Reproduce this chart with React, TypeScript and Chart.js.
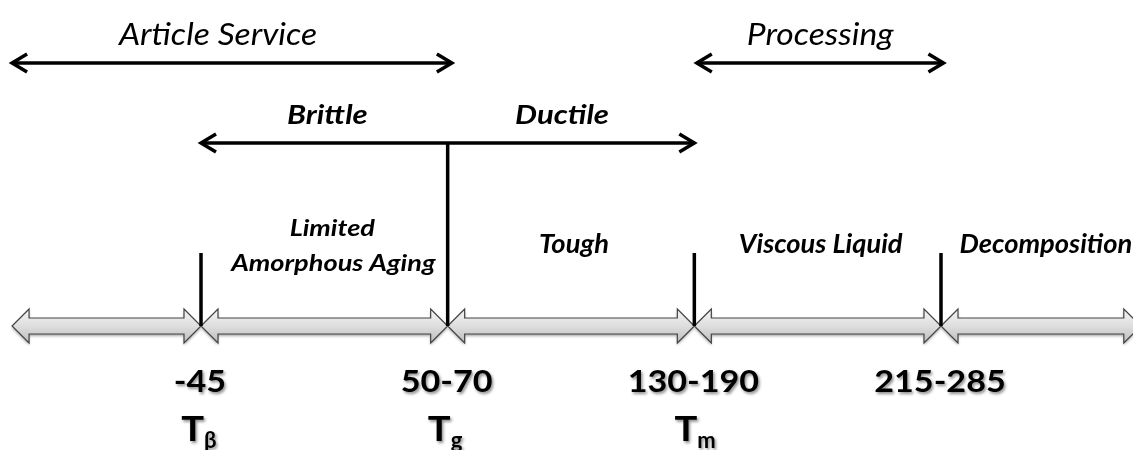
import React, { useEffect, useRef } from "react";
import { Chart, registerables } from "chart.js";

Chart.register(...registerables);

// ---------- data ----------
// transitions sit at ordinal positions 1..4 along the temperature axis
const transitionPos = [1, 2, 3, 4];
const transitionTemps = ["-45", "50-70", "130-190", "215-285"];
const transitionSymbols = ["β", "g", "m", ""];

// axis segments (double block arrows) between transitions
const segmentStart = [0.234, 1, 2, 3, 4];
const segmentEnd = [1, 2, 3, 4, 4.81];
const regionLabels = [[""], ["Limited", "Amorphous Aging"], ["Tough"], ["Viscous Liquid"], ["Decomposition"]];

// top usage ranges
const usageLabels = ["Article Service", "Processing"];
const usageStart = [0.234, 3.01];
const usageEnd = [2.017, 4.01];

// mechanical behaviour ranges
const behaviourLabels = ["Brittle", "Ductile"];
const behaviourStart = [1, 2];
const behaviourEnd = [2, 3];

// ---------- layout (y in canvas-pixel units on a reversed axis) ----------
const W = 1133;
const H = 450;
const X_MIN = 0.1851;
const X_MAX = 4.7784;
const Y = {
  usageBase: 45,
  usageLine: 63,
  behaviourBase: 124,
  behaviourLine: 143,
  regionBase: 253,
  regionLine1: 236,
  regionLine2: 271,
  tickTop: 253,
  axis: 326,
  tempBase: 392,
  symbolBase: 441,
  subBase: 448,
};
const FONT = "Lato, 'Open Sans', sans-serif";

function stretchedText(
  ctx: CanvasRenderingContext2D,
  text: string,
  x: number,
  y: number,
  font: string,
  sx: number,
  shadow = false
) {
  ctx.save();
  ctx.font = font;
  ctx.fillStyle = "#000";
  ctx.textAlign = "center";
  ctx.textBaseline = "alphabetic";
  if (shadow) {
    ctx.shadowColor = "rgba(0,0,0,0.45)";
    ctx.shadowBlur = 3;
    ctx.shadowOffsetX = 1.5;
    ctx.shadowOffsetY = 1.5;
  }
  ctx.translate(x, y);
  ctx.scale(sx, 1);
  ctx.fillText(text, 0, 0);
  ctx.restore();
}

function textWidth(ctx: CanvasRenderingContext2D, text: string, font: string, sx: number) {
  ctx.save();
  ctx.font = font;
  const w = ctx.measureText(text).width * sx;
  ctx.restore();
  return w;
}

function blockArrow(ctx: CanvasRenderingContext2D, x1: number, x2: number, yc: number) {
  const sh = 8, hh = 17, hl = 17;
  ctx.save();
  ctx.beginPath();
  ctx.moveTo(x1, yc);
  ctx.lineTo(x1 + hl, yc - hh);
  ctx.lineTo(x1 + hl, yc - sh);
  ctx.lineTo(x2 - hl, yc - sh);
  ctx.lineTo(x2 - hl, yc - hh);
  ctx.lineTo(x2, yc);
  ctx.lineTo(x2 - hl, yc + hh);
  ctx.lineTo(x2 - hl, yc + sh);
  ctx.lineTo(x1 + hl, yc + sh);
  ctx.lineTo(x1 + hl, yc + hh);
  ctx.closePath();
  const g = ctx.createLinearGradient(0, yc - hh, 0, yc + hh);
  g.addColorStop(0, "#f4f4f4");
  g.addColorStop(0.5, "#dedede");
  g.addColorStop(1, "#bdbdbd");
  ctx.fillStyle = g;
  ctx.shadowColor = "rgba(0,0,0,0.35)";
  ctx.shadowBlur = 3;
  ctx.shadowOffsetY = 2;
  ctx.fill();
  ctx.shadowColor = "transparent";
  ctx.strokeStyle = "#444";
  ctx.lineWidth = 1.2;
  ctx.lineJoin = "miter";
  ctx.stroke();
  ctx.restore();
}

function chevron(ctx: CanvasRenderingContext2D, x: number, y: number, dir: number) {
  const L = 15, HH = 9;
  ctx.save();
  ctx.strokeStyle = "#000";
  ctx.lineWidth = 3.5;
  ctx.lineJoin = "miter";
  ctx.lineCap = "butt";
  ctx.beginPath();
  ctx.moveTo(x - dir * L, y - HH);
  ctx.lineTo(x, y);
  ctx.lineTo(x - dir * L, y + HH);
  ctx.stroke();
  ctx.restore();
}

const diagramPlugin = {
  id: "diagram",
  beforeDatasetsDraw(chart: any) {
    const ctx = chart.ctx as CanvasRenderingContext2D;
    const xs = chart.scales.x, ys = chart.scales.y;
    const yA = ys.getPixelForValue(Y.axis);
    segmentStart.forEach((s, i) => {
      blockArrow(ctx, xs.getPixelForValue(s), xs.getPixelForValue(segmentEnd[i]), yA);
    });
  },
  afterDatasetsDraw(chart: any) {
    const ctx = chart.ctx as CanvasRenderingContext2D;
    const xs = chart.scales.x, ys = chart.scales.y;
    const px = (v: number) => xs.getPixelForValue(v);
    const py = (v: number) => ys.getPixelForValue(v);

    // arrowheads
    usageStart.forEach((s, i) => {
      chevron(ctx, px(s), py(Y.usageLine), -1);
      chevron(ctx, px(usageEnd[i]), py(Y.usageLine), 1);
    });
    chevron(ctx, px(behaviourStart[0]), py(Y.behaviourLine), -1);
    chevron(ctx, px(behaviourEnd[behaviourEnd.length - 1]), py(Y.behaviourLine), 1);

    // usage labels
    usageLabels.forEach((t, i) => {
      const cx = (px(usageStart[i]) + px(usageEnd[i])) / 2 + (i === 0 ? -14 : 0);
      stretchedText(ctx, t, cx, py(Y.usageBase), `italic 400 30px ${FONT}`, 1.12);
    });
    // behaviour labels
    behaviourLabels.forEach((t, i) => {
      const cx = (px(behaviourStart[i]) + px(behaviourEnd[i])) / 2 + (i === 1 ? -9 : 3);
      stretchedText(ctx, t, cx, py(Y.behaviourBase), `italic 700 27px ${FONT}`, 1.15);
    });
    // region labels
    regionLabels.forEach((lines, i) => {
      const cx = (px(segmentStart[i]) + px(segmentEnd[i])) / 2;
      if (lines.length === 2) {
        stretchedText(ctx, lines[0], cx + 8, py(Y.regionLine1), `italic 700 23px ${FONT}`, 1.18);
        stretchedText(ctx, lines[1], cx + 9, py(Y.regionLine2), `italic 700 23px ${FONT}`, 1.18);
      } else if (lines[0]) {
        stretchedText(ctx, lines[0], cx + (i === 4 ? 5 : 3), py(Y.regionBase), `italic 700 26px ${FONT}`, 1.05);
      }
    });
    // temperatures & symbols
    transitionPos.forEach((p, i) => {
      const cx = px(p);
      stretchedText(ctx, transitionTemps[i], cx - 1, py(Y.tempBase), `700 31px ${FONT}`, 1.1, true);
      const sym = transitionSymbols[i];
      if (sym) {
        const tFont = `700 34px ${FONT}`;
        const sFont = `700 22px ${FONT}`;
        const tw = textWidth(ctx, "T", tFont, 1.12);
        const sw = textWidth(ctx, sym, sFont, 1.0);
        const tRight = cx + 3;
        stretchedText(ctx, "T", tRight - tw / 2, py(Y.symbolBase), tFont, 1.12, true);
        stretchedText(ctx, sym, tRight + sw / 2, py(Y.subBase), sFont, 1.0, true);
      }
    });
  },
};

export default function App() {
  const ref = useRef<HTMLCanvasElement | null>(null);
  useEffect(() => {
    document.body.style.margin = "0";
    const canvas = ref.current!;
    const lineDs = (pts: { x: number; y: number }[]) => ({
      type: "line" as const,
      data: pts,
      borderColor: "#000",
      borderWidth: 3.5,
      pointRadius: 0,
      showLine: true,
      fill: false,
      tension: 0,
    });
    const datasets: any[] = [];
    usageStart.forEach((s, i) => {
      datasets.push(lineDs([{ x: s, y: Y.usageLine }, { x: usageEnd[i], y: Y.usageLine }]));
    });
    datasets.push(
      lineDs([
        { x: behaviourStart[0], y: Y.behaviourLine },
        { x: behaviourEnd[behaviourEnd.length - 1], y: Y.behaviourLine },
      ])
    );
    transitionPos.forEach((p, i) => {
      const top = i === 1 ? Y.behaviourLine : Y.tickTop;
      datasets.push(lineDs([{ x: p, y: top }, { x: p, y: Y.axis }]));
    });
    const chart = new Chart(canvas, {
      type: "scatter",
      data: { datasets },
      options: {
        animation: false,
        responsive: false,
        maintainAspectRatio: false,
        layout: { padding: 0 },
        plugins: { legend: { display: false }, tooltip: { enabled: false }, title: { display: false } },
        scales: {
          x: { type: "linear", min: X_MIN, max: X_MAX, display: false },
          y: { type: "linear", min: 0, max: H, reverse: true, display: false },
        },
      },
      plugins: [diagramPlugin],
    });
    return () => chart.destroy();
  }, []);
  return (
    <div style={{ width: W, height: H, background: "#fff" }}>
      <canvas ref={ref} width={W} height={H} style={{ display: "block" }} />
    </div>
  );
}
